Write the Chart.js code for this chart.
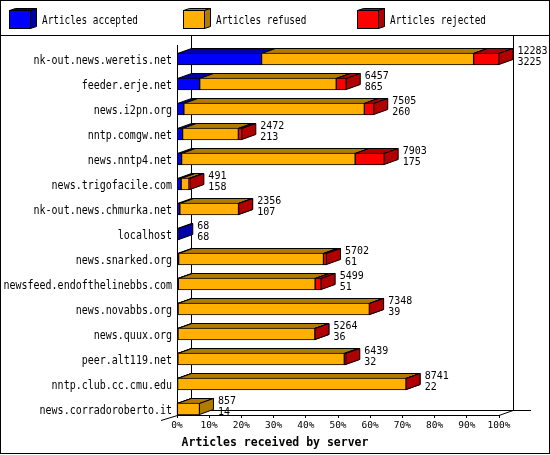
<!DOCTYPE html>
<html>
<head>
<meta charset="utf-8">
<script src="https://cdn.jsdelivr.net/npm/chart.js@4.4.1/dist/chart.umd.min.js"></script>
<style>
  html, body { margin: 0; padding: 0; background: #fff; }
  canvas { display: block; }
</style>
</head>
<body>
<canvas id="serverChart" width="550" height="455"></canvas>
<script>
var servers = [
  "nk-out.news.weretis.net", "feeder.erje.net", "news.i2pn.org", "nntp.comgw.net",
  "news.nntp4.net", "news.trigofacile.com", "nk-out.news.chmurka.net", "localhost",
  "news.snarked.org", "newsfeed.endofthelinebbs.com", "news.novabbs.org", "news.quux.org",
  "peer.alt119.net", "nntp.club.cc.cmu.edu", "news.corradoroberto.it"
];
var accepted = [3225, 865, 260, 213, 175, 158, 107, 68, 61, 51, 39, 36, 32, 22, 14];
var refused  = [8090, 5211, 6887, 2129, 6622, 300, 2239, 0, 5527, 5219, 7299, 5223, 6350, 8714, 843];
var rejected = [968, 381, 358, 130, 1106, 33, 10, 0, 114, 229, 10, 5, 57, 5, 0];
var seriesNames = ["Articles accepted", "Articles refused", "Articles rejected"];
var pctTicks = [0, 10, 20, 30, 40, 50, 60, 70, 80, 90, 100];

var totals = servers.map((s, i) => accepted[i] + refused[i] + rejected[i]);
var maxTotal = Math.max(...totals);

var frontColors = ["#0000ff", "#ffb000", "#ff0000"];
var darkColors = ["#0000a8", "#b07c00", "#b00000"];
var DX = 14, DY = 5, SHIFT = 6.5;
var mono = "'DejaVu Sans Mono', monospace";

function poly(ctx, pts, fill) {
  ctx.beginPath();
  ctx.moveTo(pts[0][0], pts[0][1]);
  for (var k = 1; k < pts.length; k++) ctx.lineTo(pts[k][0], pts[k][1]);
  ctx.closePath();
  ctx.fillStyle = fill;
  ctx.fill();
  ctx.stroke();
}

function line(ctx, x0, y0, x1, y1) {
  ctx.beginPath();
  ctx.moveTo(x0, y0);
  ctx.lineTo(x1, y1);
  ctx.stroke();
}

// the original uses a tall, narrow bitmap font, so stretch text a bit vertically
function tallText(ctx, text, x, y, k) {
  ctx.save();
  ctx.translate(x, y);
  ctx.scale(1, k);
  ctx.fillText(text, 0, 0);
  ctx.restore();
}

var bars3d = {
  id: 'bars3d',
  beforeDraw(chart) {
    var ctx = chart.ctx;
    ctx.save();
    ctx.fillStyle = "#fff";
    ctx.fillRect(0, 0, chart.width, chart.height);
    ctx.strokeStyle = "#000";
    ctx.lineWidth = 1;
    ctx.strokeRect(0.5, 0.5, 549, 453);
    line(ctx, 0, 35.5, 550, 35.5);

    // legend with little 3d boxes
    var boxX = [9, 183, 357];
    ctx.font = "9.4px " + mono;
    ctx.textBaseline = "alphabetic";
    seriesNames.forEach((name, d) => {
      var x = boxX[d];
      poly(ctx, [[x + 0.5, 10.5], [x + 21.5, 10.5], [x + 27.5, 8.5], [x + 6.5, 8.5]], darkColors[d]);
      poly(ctx, [[x + 21.5, 10.5], [x + 27.5, 8.5], [x + 27.5, 26.5], [x + 21.5, 28.5]], darkColors[d]);
      ctx.fillStyle = frontColors[d];
      ctx.fillRect(x + 0.5, 10.5, 21, 18);
      ctx.strokeRect(x + 0.5, 10.5, 21, 18);
      ctx.fillStyle = "#000";
      tallText(ctx, name, x + 33, 24, 1.25);
    });
    ctx.restore();
  },
  beforeDatasetsDraw(chart) {
    var ctx = chart.ctx;
    var a = chart.chartArea;
    ctx.save();
    ctx.strokeStyle = "#000";
    ctx.lineWidth = 1;
    // back wall and floor
    line(ctx, a.left + DX + 0.5, 36, a.left + DX + 0.5, a.bottom - DY + 0.5);
    line(ctx, a.right + DX + 0.5, 36, a.right + DX + 0.5, a.bottom - DY + 0.5);
    line(ctx, a.left + DX, a.bottom - DY + 0.5, a.right + DX + 18, a.bottom - DY + 0.5);
    ctx.restore();

    ctx.save();
    ctx.translate(0, SHIFT);
    ctx.strokeStyle = "#000";
    ctx.lineWidth = 1;
    servers.forEach((s, i) => {
      for (var d = 0; d < 3; d++) {
        var ds = chart.data.datasets[d];
        if (!(ds.data[i] > 0)) continue;
        var el = chart.getDatasetMeta(d).data[i];
        var p = el.getProps(['x', 'y', 'base', 'height'], true);
        var t = p.y - p.height / 2 + 0.5, b = p.y + p.height / 2 - 0.5;
        var x0 = p.base, x1 = p.x;
        poly(ctx, [[x0, t], [x1, t], [x1 + DX, t - DY], [x0 + DX, t - DY]], darkColors[d]);
        poly(ctx, [[x1, t], [x1 + DX, t - DY], [x1 + DX, b - DY], [x1, b]], darkColors[d]);
      }
    });
  },
  afterDatasetsDraw(chart) {
    chart.ctx.restore();
  },
  afterDraw(chart) {
    var ctx = chart.ctx;
    var a = chart.chartArea;
    var xs = chart.scales.x, ys = chart.scales.y;
    ctx.save();
    ctx.strokeStyle = "#000";
    ctx.lineWidth = 1;
    // front axes
    line(ctx, a.left + 0.5, a.top + DY, a.left + 0.5, a.bottom + 0.5);
    line(ctx, a.left, a.bottom + 0.5, a.right, a.bottom + 0.5);
    line(ctx, a.left - 16, a.bottom + 5.5, a.left + 0.5, a.bottom + 0.5);
    line(ctx, a.right, a.bottom + 0.5, a.right + DX, a.bottom - DY + 0.5);

    ctx.font = "10px " + mono;
    ctx.fillStyle = "#000";
    ctx.textBaseline = "alphabetic";

    // server names, placed on the category scale
    ctx.textAlign = "right";
    servers.forEach((s, i) => {
      var c = ys.getPixelForValue(i) + SHIFT;
      tallText(ctx, s, a.left - 5, c + 4.5, 1.2);
    });

    // value labels: total and accepted
    ctx.textAlign = "left";
    servers.forEach((s, i) => {
      var x = xs.getPixelForValue(totals[i]) + DX + 4.5;
      var c = ys.getPixelForValue(i) + SHIFT;
      tallText(ctx, String(totals[i]), x, c - 5, 1.08);
      tallText(ctx, String(accepted[i]), x, c + 5.8, 1.08);
    });

    ctx.font = "bold 11.5px " + mono;
    ctx.textAlign = "center";
    tallText(ctx, "Articles received by server", 275, 445.5, 1.1);
    ctx.restore();
  }
};

new Chart("serverChart", {
  type: "bar",
  data: {
    labels: servers,
    datasets: [
      { label: seriesNames[0], data: accepted, backgroundColor: frontColors[0] },
      { label: seriesNames[1], data: refused, backgroundColor: frontColors[1] },
      { label: seriesNames[2], data: rejected, backgroundColor: frontColors[2] }
    ]
  },
  options: {
    indexAxis: 'y',
    responsive: false,
    animation: false,
    devicePixelRatio: 1,
    layout: { padding: { top: 40, right: 51, left: 0, bottom: 0 } },
    datasets: {
      bar: {
        barThickness: 12,
        borderColor: "#000",
        borderWidth: 1,
        borderSkipped: false
      }
    },
    scales: {
      x: {
        stacked: true,
        min: 0,
        max: maxTotal,
        afterBuildTicks: scale => {
          scale.ticks = pctTicks.map(p => ({ value: p / 100 * maxTotal }));
        },
        afterFit: scale => { scale.height = 40; },
        grid: { drawOnChartArea: false, drawTicks: true, tickLength: 3, color: "#000" },
        border: { display: false },
        ticks: {
          color: "#000",
          padding: 2,
          maxRotation: 0,
          font: { family: mono, size: 9.5 },
          callback: value => Math.round(value / maxTotal * 100) + "%"
        }
      },
      y: {
        stacked: true,
        afterFit: scale => { scale.width = 177; },
        grid: { display: false, drawTicks: false },
        border: { display: false },
        ticks: { display: false }
      }
    },
    plugins: {
      legend: { display: false },
      tooltip: { enabled: false }
    }
  },
  plugins: [bars3d]
});
</script>
</body>
</html>
